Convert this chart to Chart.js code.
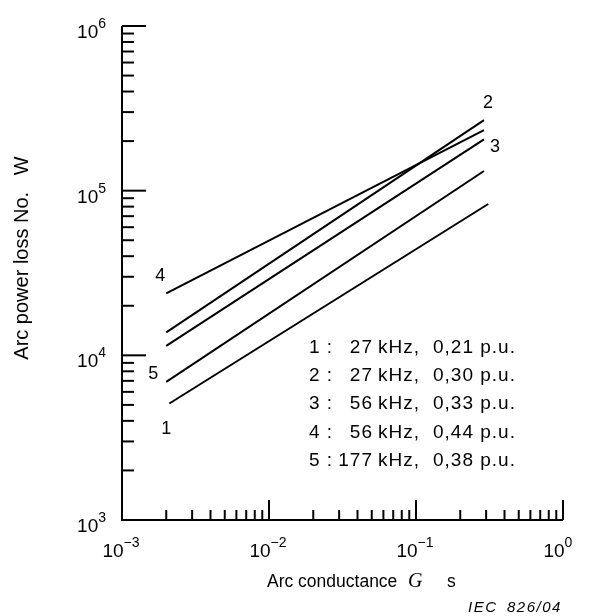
<!DOCTYPE html>
<html>
<head>
<meta charset="utf-8">
<script src="https://cdn.jsdelivr.net/npm/chart.js@4.4.1/dist/chart.umd.min.js"></script>
<style>
  html, body { margin: 0; padding: 0; background: #fff; }
  #wrap { width: 590px; height: 616px; }
</style>
</head>
<body>
<div id="wrap"><canvas id="arc-chart" width="590" height="616"></canvas></div>
<script>
// arc conductance G (s) at line ends
const gRange = [0.002, 0.29];
const gRange1 = [0.0021, 0.31];

// arc power loss (W) at the line ends
const loss1 = [5100, 83000];
const loss2 = [13800, 268000];
const loss3 = [11400, 205000];
const loss4 = [23800, 233000];
const loss5 = [6900, 131600];

const curveNames = ["1", "2", "3", "4", "5"];
const freqs = ["27", "27", "56", "56", "177"];
const puValues = ["0,21", "0,30", "0,33", "0,44", "0,38"];

const xDecades = [-3, -2, -1, 0];
const yDecades = [3, 4, 5, 6];

const FONT = "'Liberation Sans', Arial, sans-serif";

function pts(xs, ys) {
    return xs.map((x, i) => ({ x: x, y: ys[i] }));
}

function supText(e) {
    return e < 0 ? "\u2212" + (-e) : String(e);
}

// "10" with a superscript exponent, x is the left edge of "10"
function drawPow(ctx, e, x, y) {
    ctx.textAlign = "left";
    ctx.font = "19px " + FONT;
    ctx.fillText("10", x, y);
    const w1 = ctx.measureText("10").width;
    ctx.font = "14px " + FONT;
    ctx.fillText(supText(e), x + w1, y - 10);
}

const axesPlugin = {
    id: "axesPlugin",
    afterDraw(chart) {
        const ctx = chart.ctx;
        const xs = chart.scales.x;
        const ys = chart.scales.y;
        const area = chart.chartArea;
        ctx.save();
        ctx.strokeStyle = "#000";
        ctx.fillStyle = "#000";
        ctx.lineWidth = 2;

        // axis lines
        ctx.beginPath();
        ctx.moveTo(area.left, area.top);
        ctx.lineTo(area.left, area.bottom);
        ctx.lineTo(area.right, area.bottom);
        ctx.stroke();

        // y ticks (inward)
        yDecades.forEach(e => {
            const yp = ys.getPixelForValue(Math.pow(10, e));
            ctx.beginPath();
            ctx.moveTo(area.left, yp);
            ctx.lineTo(area.left + 24, yp);
            ctx.stroke();
            if (e < 6) {
                for (let m = 2; m <= 9; m++) {
                    const ym = ys.getPixelForValue(m * Math.pow(10, e));
                    ctx.beginPath();
                    ctx.moveTo(area.left, ym);
                    ctx.lineTo(area.left + 12, ym);
                    ctx.stroke();
                }
            }
            ctx.font = "14px " + FONT;
            const ws = ctx.measureText(supText(e)).width;
            ctx.font = "19px " + FONT;
            const w1 = ctx.measureText("10").width;
            drawPow(ctx, e, area.left - 16 - ws - w1, yp + 12);
        });

        // x ticks (inward)
        xDecades.forEach(e => {
            const xp = xs.getPixelForValue(Math.pow(10, e));
            ctx.beginPath();
            ctx.moveTo(xp, area.bottom);
            ctx.lineTo(xp, area.bottom - 20);
            ctx.stroke();
            if (e < 0) {
                for (let m = 2; m <= 9; m++) {
                    const xm = xs.getPixelForValue(m * Math.pow(10, e));
                    ctx.beginPath();
                    ctx.moveTo(xm, area.bottom);
                    ctx.lineTo(xm, area.bottom - 10);
                    ctx.stroke();
                }
            }
            ctx.font = "19px " + FONT;
            const w1 = ctx.measureText("10").width;
            drawPow(ctx, e, xp - 9 - w1 / 2, area.bottom + 37);
        });

        // curve numbers next to the line ends
        ctx.font = "18px " + FONT;
        ctx.textAlign = "center";
        ctx.textBaseline = "alphabetic";
        const ds = chart.data.datasets;
        const at = (i, k) => ({
            x: xs.getPixelForValue(ds[i].data[k].x),
            y: ys.getPixelForValue(ds[i].data[k].y)
        });
        let p = at(3, 0); ctx.fillText("4", p.x - 6, p.y - 12);
        p = at(4, 0); ctx.fillText("5", p.x - 13, p.y - 3);
        p = at(0, 0); ctx.fillText("1", p.x - 3, p.y + 31);
        p = at(1, 1); ctx.fillText("2", p.x + 4, p.y - 12);
        p = at(2, 1); ctx.fillText("3", p.x + 11, p.y + 13);

        // key
        ctx.font = "19px " + FONT;
        ctx.letterSpacing = "1px";
        for (let i = 0; i < curveNames.length; i++) {
            const yb = 353 + i * 28.2;
            ctx.textAlign = "left";
            ctx.fillText(curveNames[i] + " :", 309, yb);
            ctx.textAlign = "right";
            ctx.fillText(freqs[i], 373, yb);
            ctx.textAlign = "left";
            ctx.fillText("kHz,", 378, yb);
            ctx.fillText(puValues[i] + " p.u.", 433, yb);
        }
        ctx.letterSpacing = "0px";

        // axis titles
        ctx.textAlign = "left";
        ctx.font = "17.5px " + FONT;
        ctx.fillText("Arc conductance", 267, 587);
        ctx.font = "italic 20px 'Liberation Serif', 'Times New Roman', serif";
        ctx.fillText("G", 408, 587);
        ctx.font = "17.5px " + FONT;
        ctx.fillText("s", 447, 587);

        ctx.font = "italic 15px " + FONT;
        ctx.letterSpacing = "1.5px";
        ctx.fillText("IEC", 468, 612);
        ctx.fillText("826/04", 507, 612);
        ctx.letterSpacing = "0px";

        ctx.translate(28, 258);
        ctx.rotate(-Math.PI / 2);
        ctx.textAlign = "center";
        ctx.font = "20px " + FONT;
        ctx.fillText("Arc power loss No.   W", 0, 0);
        ctx.restore();
    }
};

const lineStyle = {
    borderColor: "#000",
    borderWidth: 2,
    pointRadius: 0,
    showLine: true,
    fill: false
};

new Chart(document.getElementById("arc-chart"), {
    type: "scatter",
    data: {
        datasets: [
            Object.assign({ label: "1", data: pts(gRange1, loss1) }, lineStyle),
            Object.assign({ label: "2", data: pts(gRange, loss2) }, lineStyle),
            Object.assign({ label: "3", data: pts(gRange, loss3) }, lineStyle),
            Object.assign({ label: "4", data: pts(gRange, loss4) }, lineStyle),
            Object.assign({ label: "5", data: pts(gRange, loss5) }, lineStyle)
        ]
    },
    options: {
        responsive: false,
        animation: false,
        layout: {
            padding: { left: 122, right: 27, top: 26, bottom: 96 }
        },
        plugins: {
            legend: { display: false },
            tooltip: { enabled: false }
        },
        scales: {
            x: { type: "logarithmic", min: 0.001, max: 1, display: false },
            y: { type: "logarithmic", min: 1000, max: 1000000, display: false }
        }
    },
    plugins: [axesPlugin]
});
</script>
</body>
</html>
